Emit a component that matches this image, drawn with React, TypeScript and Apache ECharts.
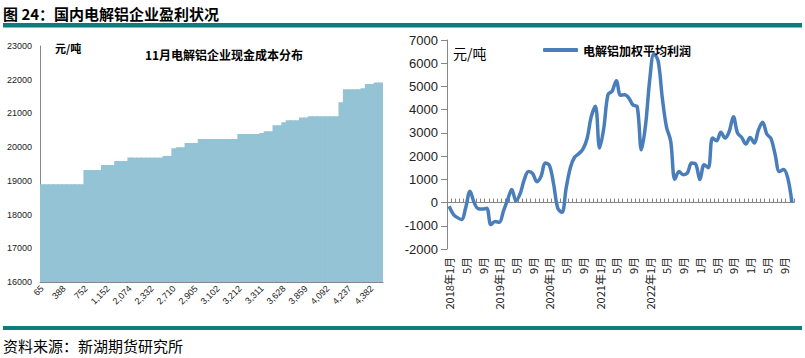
import React, { useEffect, useRef } from 'react';
import * as echarts from 'echarts';

// Left chart: November cash-cost distribution (cumulative capacity labels, 万吨)
const capacityLabels = ['65', '388', '752', '1,152', '2,074', '2,332', '2,710', '2,905', '3,102', '3,212', '3,311', '3,628', '3,859', '4,092', '4,237', '4,382'];
const cashCost = [
  18900, 18900, 18900, 18900, 18900, 18900, 18900, 18900, 18900, 18900,
  19320, 19320, 19320, 19320,
  19470, 19470, 19470,
  19590, 19590, 19590,
  19690, 19690, 19690, 19690, 19690, 19690, 19690, 19690,
  19740, 19740,
  19970,
  20000, 20000,
  20120, 20120, 20120,
  20240, 20240, 20240, 20240, 20240, 20240, 20240, 20240, 20240,
  20390, 20390, 20390, 20390, 20390,
  20420,
  20470, 20470,
  20650, 20650,
  20740,
  20800, 20800, 20800,
  20880, 20880,
  20920, 20920, 20920, 20920, 20920, 20920, 20920,
  21330,
  21720, 21720, 21720, 21720,
  21750,
  21870, 21870,
  21920, 21920,
];

// Right chart: weighted average profit of electrolytic aluminium (元/吨), 2018-01 .. 2024-11
const monthTickLabels = ['2018年1月', '5月', '9月', '2019年1月', '5月', '9月', '2020年1月', '5月', '9月', '2021年1月', '5月', '9月', '2022年1月', '5月', '9月', '1月', '5月', '9月', '1月', '5月', '9月'];
const profit = [
  -160, -500, -650, -730, -200, 490, 0, -270, -280, -250, -950, -820,
  -850, -370, 120, 560, 80, 380, 1000, 1340, 1250, 900, 1130, 1700,
  1600, 800, -250, -420, 620, 1500, 1950, 2100, 2300, 2750, 3700, 4150,
  2350, 3200, 4650, 4800, 5250, 4620, 4640, 4500, 4200, 4130, 2270, 3350,
  5300, 6400, 6100, 4500, 3250, 2650, 1000, 1340, 1200, 1270, 1700, 1650,
  990, 1630, 1500, 2780, 2660, 3030, 2780, 3060, 3700, 2990, 2800, 2520,
  2800, 2560, 3130, 3460, 2950, 2750, 2060, 1340, 1420, 1060, 0,
];
const seriesName = '电解铝加权平均利润';

const CJK = '"Noto Sans CJK SC", sans-serif';
const LATIN = '"Liberation Sans", Arial, sans-serif';
const TEAL = '#0B7D7D';
const AXIS = '#868686';
const plain = (v: number) => String(v);

export default function App() {
  const ref = useRef<HTMLDivElement>(null);
  useEffect(() => {
    document.body.style.margin = '0';
    if (!ref.current) return;
    const chart = echarts.init(ref.current, null, { renderer: 'svg' });
    const leftCats = cashCost.map((_, i) => String(i));
    const months = profit.map((_, i) => `${2018 + Math.floor(i / 12)}年${(i % 12) + 1}月`);
    const option = {
      animation: false,
      backgroundColor: '#ffffff',
      textStyle: { fontFamily: LATIN },
      grid: [
        { left: 40, right: 422, top: 46, bottom: 76 },
        { left: 447, right: 11, top: 40, bottom: 109 },
      ],
      legend: {
        left: 538,
        top: 39,
        icon: 'roundRect',
        itemWidth: 35,
        itemHeight: 4,
        data: [seriesName],
        textStyle: { fontSize: 12, fontWeight: 'bold', color: '#000', fontFamily: CJK },
      },
      xAxis: [
        {
          gridIndex: 0,
          type: 'category',
          data: leftCats,
          axisLine: { show: true, lineStyle: { color: AXIS } },
          axisTick: { show: false },
          axisLabel: {
            interval: 4,
            rotate: 45,
            fontSize: 9,
            color: '#222',
            margin: 5,
            formatter: (_v: string, idx: number) => (idx % 5 === 0 ? capacityLabels[idx / 5] ?? '' : ''),
          },
        },
        {
          gridIndex: 1,
          type: 'category',
          data: months,
          axisLine: { show: false, onZero: false },
          axisTick: { show: false },
          axisLabel: {
            interval: 3,
            rotate: 90,
            fontSize: 11,
            color: '#222',
            margin: 8,
            fontFamily: CJK,
            formatter: (_v: string, idx: number) => (idx % 4 === 0 ? monthTickLabels[idx / 4] ?? '' : ''),
          },
        },
        {
          gridIndex: 1,
          type: 'category',
          data: months,
          axisLine: { show: true, onZero: true, lineStyle: { color: AXIS, width: 1 } },
          axisTick: { show: true, interval: 0, length: 4, lineStyle: { color: AXIS } },
          axisLabel: { show: false },
        },
      ],
      yAxis: [
        {
          gridIndex: 0,
          type: 'value',
          min: 16000,
          max: 23000,
          interval: 1000,
          axisLine: { show: true, lineStyle: { color: AXIS } },
          axisTick: { show: false },
          splitLine: { show: false },
          axisLabel: { fontSize: 9, color: '#222', margin: 8, formatter: plain },
        },
        {
          gridIndex: 1,
          type: 'value',
          min: -2000,
          max: 7000,
          interval: 1000,
          axisLine: { show: true, lineStyle: { color: AXIS } },
          axisTick: { show: true, length: 6, lineStyle: { color: AXIS } },
          splitLine: { show: false },
          axisLabel: { fontSize: 13, color: '#222', margin: 9, formatter: plain },
        },
      ],
      series: [
        {
          type: 'bar',
          xAxisIndex: 0,
          yAxisIndex: 0,
          data: cashCost,
          barWidth: '125%',
          silent: true,
          itemStyle: { color: '#93C3D5' },
        },
        {
          type: 'line',
          name: seriesName,
          xAxisIndex: 1,
          yAxisIndex: 1,
          data: profit,
          smooth: 0.35,
          symbol: 'none',
          lineStyle: { color: '#4A7EBB', width: 3.5 },
          itemStyle: { color: '#4A7EBB' },
        },
      ],
      graphic: [
        {
          type: 'text',
          x: 3,
          y: 13,
          style: { text: '图 24：国内电解铝企业盈利状况', fontSize: 15, fontWeight: 'bold', fontFamily: CJK, fill: '#000', verticalAlign: 'middle', align: 'left' },
        },
        { type: 'rect', shape: { x: 3, y: 23, width: 799, height: 4.5 }, style: { fill: TEAL } },
        { type: 'rect', shape: { x: 3, y: 326, width: 799, height: 4 }, style: { fill: TEAL } },
        {
          type: 'text',
          x: 3,
          y: 345,
          style: { text: '资料来源：新湖期货研究所', fontSize: 15, fontFamily: CJK, fill: '#000', verticalAlign: 'middle', align: 'left' },
        },
        {
          type: 'text',
          x: 55,
          y: 48,
          style: { text: '元/吨', fontSize: 11, fontWeight: 'bold', fontFamily: CJK, fill: '#000', verticalAlign: 'middle', align: 'left' },
        },
        {
          type: 'text',
          x: 224,
          y: 54,
          style: { text: '11月电解铝企业现金成本分布', fontSize: 12, fontWeight: 'bold', fontFamily: CJK, fill: '#000', verticalAlign: 'middle', align: 'center' },
        },
        {
          type: 'text',
          x: 453,
          y: 53,
          style: { text: '元/吨', fontSize: 14, fontFamily: CJK, fill: '#000', verticalAlign: 'middle', align: 'left' },
        },
      ],
    };
    chart.setOption(option as any);
    return () => chart.dispose();
  }, []);
  return <div ref={ref} style={{ width: 805, height: 358 }} />;
}
